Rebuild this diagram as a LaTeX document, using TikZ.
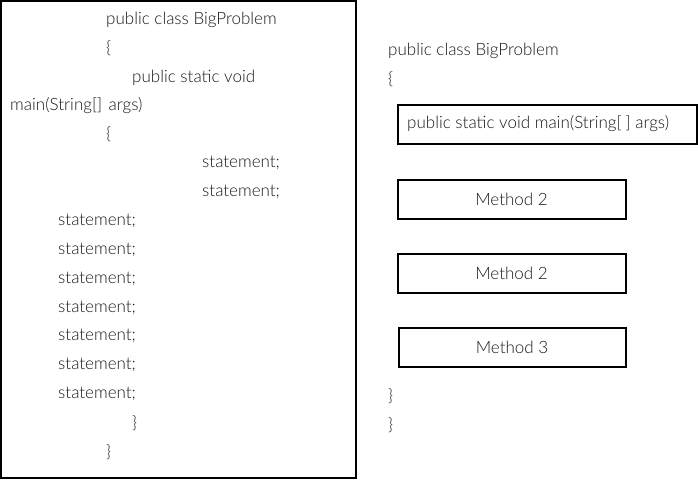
\documentclass[tikz,border=0pt]{standalone}
\usepackage{fontspec}
\setmainfont{Lato Light}[BoldFont=Lato]
\begin{document}
\begin{tikzpicture}[x=1pt,y=-1pt,
  txt/.style={anchor=west,inner sep=0pt,text=black!90,font=\fontsize{17}{20}\selectfont},
  frame/.style={draw=black,line width=2pt},
  methbox/.style={draw=black,line width=2pt,minimum height=39pt,inner sep=0pt,text=black!90,font=\fontsize{17}{20}\selectfont}]
\useasboundingbox (0,0) rectangle (698,480);
\fill[white] (0,0) rectangle (698,480);
% left frame
\draw[frame] (1,1) rectangle (356,478);
\node[txt] (l1) at (106,20) {public class BigProblem};
\node[txt] (l2) at (106,48) {\{};
\node[txt] (l3) at (132,78) {public static void};
\node[txt] (l4) at (10,106) {main(String[]\hspace{2pt} args)};
\node[txt] (l5) at (106,134) {\{};
\node[txt] (l6) at (202,163) {statement;};
\node[txt] (l7) at (202,192) {statement;};
\node[txt] (s1) at (58,221) {statement;};
\node[txt] (s2) at (58,250) {statement;};
\node[txt] (s3) at (58,279) {statement;};
\node[txt] (s4) at (58,308) {statement;};
\node[txt] (s5) at (58,336) {statement;};
\node[txt] (s6) at (58,365) {statement;};
\node[txt] (s7) at (58,394) {statement;};
\node[txt] (c1) at (132,423) {\}};
\node[txt] (c2) at (106,452) {\}};
% right side
\node[txt] (r1) at (388,51) {public class BigProblem};
\node[txt] (r2) at (388,79) {\{};
\node[methbox,minimum width=299pt] (m1) at (547,124.5) {};
\node[txt] (m1t) at (407,124) {public static void main(String[\hspace{4pt}] args)};
\node[methbox,minimum width=228pt] (m2) at (511.5,199) {Method 2};
\node[methbox,minimum width=228pt] (m3) at (511.5,273.5) {Method 2};
\node[methbox,minimum width=227pt] (m4) at (512,347) {Method 3};
\node[txt] (r3) at (388,396) {\}};
\node[txt] (r4) at (388,425) {\}};
\end{tikzpicture}
\end{document}
